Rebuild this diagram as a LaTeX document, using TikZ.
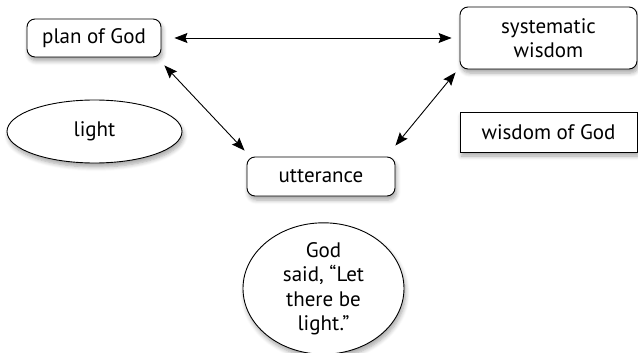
\documentclass[tikz,border=0pt]{standalone}
\usepackage{fontspec}
\setmainfont{PT Sans}
\usetikzlibrary{arrows.meta,shapes.geometric,shadows.blur}

\begin{document}
\begin{tikzpicture} [x=1pt,y=-1pt] %plan, wisdom and utterance
\tikzset{
  shade/.style={blur shadow={shadow xshift=1.5pt, shadow yshift=-4pt, shadow blur steps=6, shadow opacity=35}},
  roundbox/.style={draw, line width=0.9pt, rounded corners=8pt, fill=white, shade, align=center, inner sep=0pt},
  squarebox/.style={draw, line width=0.9pt, fill=white, shade, inner sep=0pt},
  oval/.style={draw, ellipse, line width=0.9pt, fill=white, shade, inner sep=0pt, align=center},
  link/.style={line width=0.9pt, {Stealth[length=13pt,width=10pt,inset=2pt]}-{Stealth[length=13pt,width=10pt,inset=2pt]}}
}
\useasboundingbox (0,0) rectangle (638,353);
\fontsize{21}{24.5}\selectfont

	%boxes and ovals
\node [roundbox, minimum width=134pt, minimum height=38pt] (plan) at (94,38) {plan of God};
\node [roundbox, minimum width=177pt, minimum height=62pt] (sysw) at (548.5,38) {systematic\\wisdom};
\node [squarebox, minimum width=177pt, minimum height=40pt] (wog) at (548.5,132) {wisdom of God};
\node [oval, minimum width=175pt, minimum height=63pt] (light) at (94.5,131.5) {light};
\node [roundbox, minimum width=148pt, minimum height=39pt] (utter) at (321,176.5) {utterance};
\node [oval, minimum width=161pt, minimum height=123pt] (said) at (323.5,288.5) {God\\said, ``Let\\there be\\light.''};

	%arrow ends, set off from the boxes
\coordinate (pb) at ([shift={(3pt,-8pt)}]plan.south east);
\coordinate (ut) at ([shift={(-2pt,6pt)}]utter.north west);
\coordinate (sb) at ([shift={(-4pt,-3pt)}]sysw.south west);
\coordinate (ur) at ([shift={(0pt,11pt)}]utter.north east);

\draw [link, shorten <=13pt, shorten >=8pt] (plan.east) -- (sysw.west);
\draw [link] (pb) -- (ut);
\draw [link] (sb) -- (ur);

\end{tikzpicture}
\end{document}
